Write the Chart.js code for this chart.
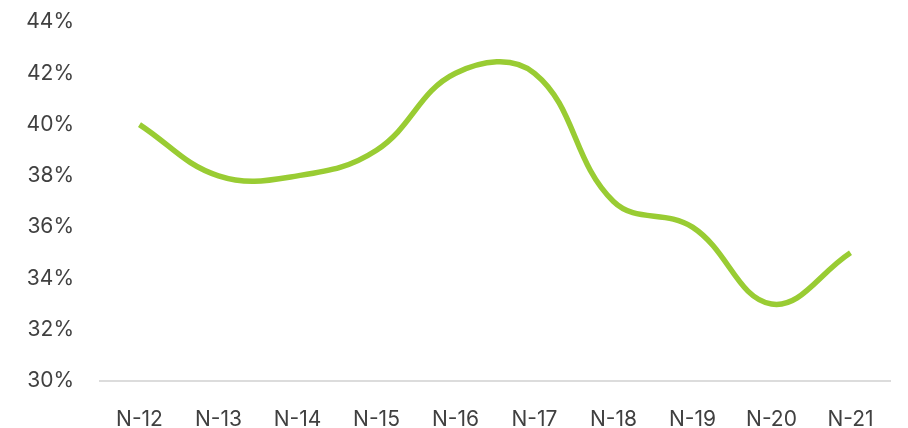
<!DOCTYPE html>
<html><head><meta charset="utf-8">
<script src="https://cdn.jsdelivr.net/npm/chart.js@4"></script>
<style>html,body{margin:0;padding:0;background:#fff}#wrap{width:908px;height:428px}</style>
</head><body><div id="wrap"><canvas id="c"></canvas></div>
<script>
const categories = ["N-12","N-13","N-14","N-15","N-16","N-17","N-18","N-19","N-20","N-21"];
const values = [40,38,38,39,42,42,37,36,33,35];
const yMin = 30, yMax = 44, yStep = 2;

new Chart(document.getElementById('c'), {
  type: 'line',
  data: { labels: categories, datasets: [{ data: values, borderColor: '#99CC33', borderWidth: 5.5, pointRadius: 0, tension: 0.4, fill: false }] },
  options: {
    responsive: true, maintainAspectRatio: false, animation: false,
    layout: { padding: { top: 22, right: 18, left: 0, bottom: 0 } },
    plugins: { legend: { display: false }, tooltip: { enabled: false } },
    scales: {
      x: {
        offset: true,
        grid: { display: false, drawTicks: false },
        border: { display: true, color: '#dcdcdc', width: 2 },
        ticks: { color: '#404040', font: { family: 'Inter', size: 21 }, padding: 26, maxRotation: 0 },
        afterFit: s => { s.height = 47; s.paddingLeft = 0; s.paddingRight = 0; }
      },
      y: {
        min: yMin, max: yMax,
        grid: { display: false, drawTicks: false },
        border: { display: false },
        ticks: { stepSize: yStep, color: '#404040', font: { family: 'Inter', size: 21 }, padding: 26, callback: v => v + '%' },
        afterFit: s => { s.width = 100; s.paddingTop = 0; s.paddingBottom = 0; }
      }
    }
  }
});
</script></body></html>
